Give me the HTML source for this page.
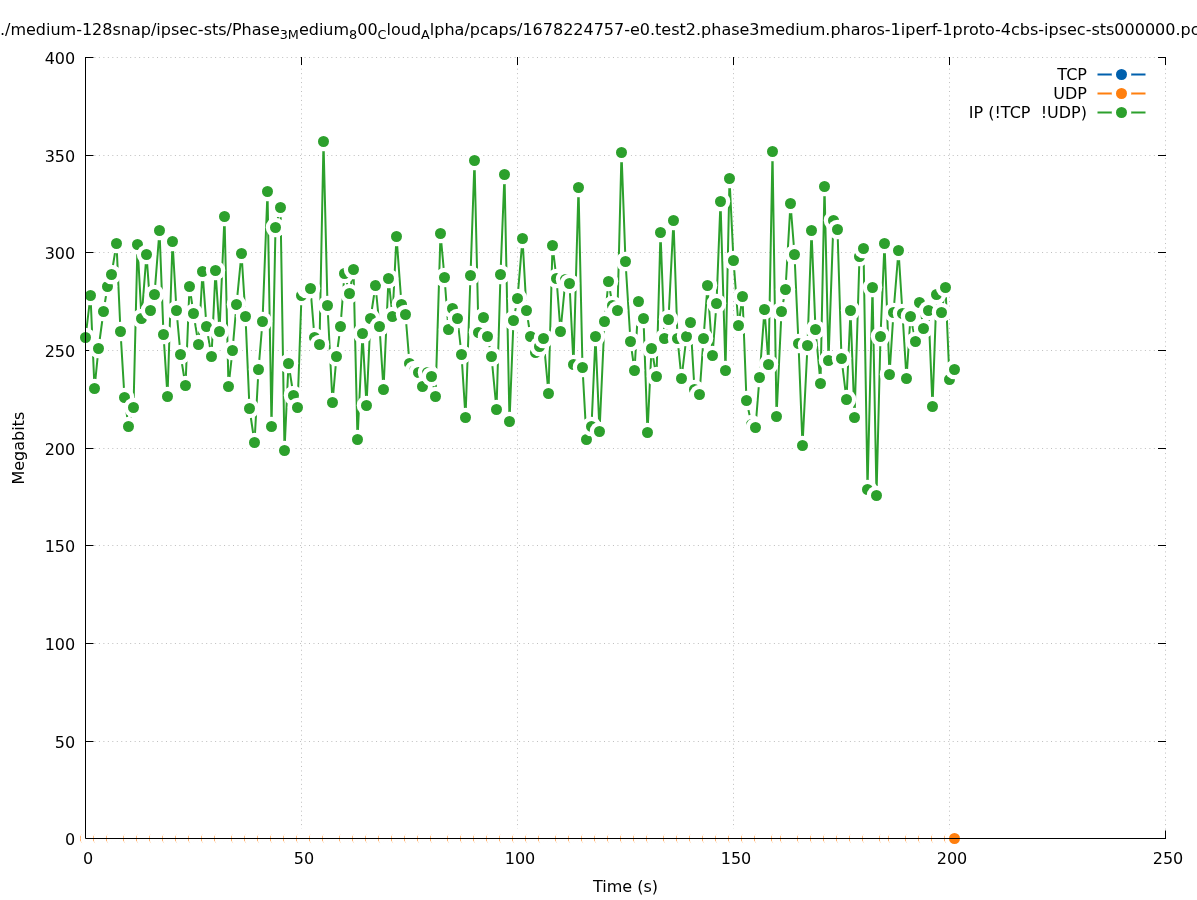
<!DOCTYPE html>
<html><head><meta charset="utf-8"><title>Throughput</title>
<style>html,body{margin:0;padding:0;background:#fff}body{width:1197px;height:900px;overflow:hidden}</style></head>
<body>
<svg width="1197" height="900" viewBox="0 0 1197 900" style="display:block;font-family:'DejaVu Sans','Liberation Sans',sans-serif;font-size:16px">
<rect width="1197" height="900" fill="#fff"/>
<g stroke="#bebebe" stroke-width="1" stroke-dasharray="1 3.47" fill="none"><line x1="301.5" y1="838.5" x2="301.5" y2="57.5"/><line x1="517.5" y1="838.5" x2="517.5" y2="57.5"/><line x1="733.5" y1="838.5" x2="733.5" y2="57.5"/><line x1="949.5" y1="838.5" x2="949.5" y2="57.5"/><line x1="1165.5" y1="838.5" x2="1165.5" y2="57.5"/><line x1="85.5" y1="741.5" x2="1165.5" y2="741.5"/><line x1="85.5" y1="643.5" x2="1165.5" y2="643.5"/><line x1="85.5" y1="545.5" x2="1165.5" y2="545.5"/><line x1="85.5" y1="448.5" x2="1165.5" y2="448.5"/><line x1="85.5" y1="350.5" x2="1165.5" y2="350.5"/><line x1="85.5" y1="252.5" x2="1165.5" y2="252.5"/><line x1="85.5" y1="155.5" x2="1165.5" y2="155.5"/><line x1="85.5" y1="57.5" x2="1165.5" y2="57.5"/></g>
<g stroke="#000" stroke-width="1" fill="none"><line x1="85.5" y1="838.5" x2="85.5" y2="830.5"/><line x1="85.5" y1="57.0" x2="85.5" y2="65.0"/><line x1="301.5" y1="838.5" x2="301.5" y2="830.5"/><line x1="301.5" y1="57.0" x2="301.5" y2="65.0"/><line x1="517.5" y1="838.5" x2="517.5" y2="830.5"/><line x1="517.5" y1="57.0" x2="517.5" y2="65.0"/><line x1="733.5" y1="838.5" x2="733.5" y2="830.5"/><line x1="733.5" y1="57.0" x2="733.5" y2="65.0"/><line x1="949.5" y1="838.5" x2="949.5" y2="830.5"/><line x1="949.5" y1="57.0" x2="949.5" y2="65.0"/><line x1="1165.5" y1="838.5" x2="1165.5" y2="830.5"/><line x1="1165.5" y1="57.0" x2="1165.5" y2="65.0"/><line x1="85.5" y1="838.5" x2="93.5" y2="838.5"/><line x1="1166.0" y1="838.5" x2="1158.0" y2="838.5"/><line x1="85.5" y1="741.5" x2="93.5" y2="741.5"/><line x1="1166.0" y1="741.5" x2="1158.0" y2="741.5"/><line x1="85.5" y1="643.5" x2="93.5" y2="643.5"/><line x1="1166.0" y1="643.5" x2="1158.0" y2="643.5"/><line x1="85.5" y1="545.5" x2="93.5" y2="545.5"/><line x1="1166.0" y1="545.5" x2="1158.0" y2="545.5"/><line x1="85.5" y1="448.5" x2="93.5" y2="448.5"/><line x1="1166.0" y1="448.5" x2="1158.0" y2="448.5"/><line x1="85.5" y1="350.5" x2="93.5" y2="350.5"/><line x1="1166.0" y1="350.5" x2="1158.0" y2="350.5"/><line x1="85.5" y1="252.5" x2="93.5" y2="252.5"/><line x1="1166.0" y1="252.5" x2="1158.0" y2="252.5"/><line x1="85.5" y1="155.5" x2="93.5" y2="155.5"/><line x1="1166.0" y1="155.5" x2="1158.0" y2="155.5"/><line x1="85.5" y1="57.5" x2="93.5" y2="57.5"/><line x1="1166.0" y1="57.5" x2="1158.0" y2="57.5"/></g>
<g><circle cx="85.5" cy="838.5" r="10" fill="#fff"/><circle cx="85.5" cy="838.5" r="5.5" fill="#ff7f0e"/><circle cx="90.5" cy="838.5" r="10" fill="#fff"/><circle cx="90.5" cy="838.5" r="5.5" fill="#ff7f0e"/><circle cx="94.5" cy="838.5" r="10" fill="#fff"/><circle cx="94.5" cy="838.5" r="5.5" fill="#ff7f0e"/><circle cx="98.5" cy="838.5" r="10" fill="#fff"/><circle cx="98.5" cy="838.5" r="5.5" fill="#ff7f0e"/><circle cx="103.5" cy="838.5" r="10" fill="#fff"/><circle cx="103.5" cy="838.5" r="5.5" fill="#ff7f0e"/><circle cx="107.5" cy="838.5" r="10" fill="#fff"/><circle cx="107.5" cy="838.5" r="5.5" fill="#ff7f0e"/><circle cx="111.5" cy="838.5" r="10" fill="#fff"/><circle cx="111.5" cy="838.5" r="5.5" fill="#ff7f0e"/><circle cx="116.5" cy="838.5" r="10" fill="#fff"/><circle cx="116.5" cy="838.5" r="5.5" fill="#ff7f0e"/><circle cx="120.5" cy="838.5" r="10" fill="#fff"/><circle cx="120.5" cy="838.5" r="5.5" fill="#ff7f0e"/><circle cx="124.5" cy="838.5" r="10" fill="#fff"/><circle cx="124.5" cy="838.5" r="5.5" fill="#ff7f0e"/><circle cx="128.5" cy="838.5" r="10" fill="#fff"/><circle cx="128.5" cy="838.5" r="5.5" fill="#ff7f0e"/><circle cx="133.5" cy="838.5" r="10" fill="#fff"/><circle cx="133.5" cy="838.5" r="5.5" fill="#ff7f0e"/><circle cx="137.5" cy="838.5" r="10" fill="#fff"/><circle cx="137.5" cy="838.5" r="5.5" fill="#ff7f0e"/><circle cx="141.5" cy="838.5" r="10" fill="#fff"/><circle cx="141.5" cy="838.5" r="5.5" fill="#ff7f0e"/><circle cx="146.5" cy="838.5" r="10" fill="#fff"/><circle cx="146.5" cy="838.5" r="5.5" fill="#ff7f0e"/><circle cx="150.5" cy="838.5" r="10" fill="#fff"/><circle cx="150.5" cy="838.5" r="5.5" fill="#ff7f0e"/><circle cx="154.5" cy="838.5" r="10" fill="#fff"/><circle cx="154.5" cy="838.5" r="5.5" fill="#ff7f0e"/><circle cx="159.5" cy="838.5" r="10" fill="#fff"/><circle cx="159.5" cy="838.5" r="5.5" fill="#ff7f0e"/><circle cx="163.5" cy="838.5" r="10" fill="#fff"/><circle cx="163.5" cy="838.5" r="5.5" fill="#ff7f0e"/><circle cx="167.5" cy="838.5" r="10" fill="#fff"/><circle cx="167.5" cy="838.5" r="5.5" fill="#ff7f0e"/><circle cx="172.5" cy="838.5" r="10" fill="#fff"/><circle cx="172.5" cy="838.5" r="5.5" fill="#ff7f0e"/><circle cx="176.5" cy="838.5" r="10" fill="#fff"/><circle cx="176.5" cy="838.5" r="5.5" fill="#ff7f0e"/><circle cx="180.5" cy="838.5" r="10" fill="#fff"/><circle cx="180.5" cy="838.5" r="5.5" fill="#ff7f0e"/><circle cx="185.5" cy="838.5" r="10" fill="#fff"/><circle cx="185.5" cy="838.5" r="5.5" fill="#ff7f0e"/><circle cx="189.5" cy="838.5" r="10" fill="#fff"/><circle cx="189.5" cy="838.5" r="5.5" fill="#ff7f0e"/><circle cx="193.5" cy="838.5" r="10" fill="#fff"/><circle cx="193.5" cy="838.5" r="5.5" fill="#ff7f0e"/><circle cx="198.5" cy="838.5" r="10" fill="#fff"/><circle cx="198.5" cy="838.5" r="5.5" fill="#ff7f0e"/><circle cx="202.5" cy="838.5" r="10" fill="#fff"/><circle cx="202.5" cy="838.5" r="5.5" fill="#ff7f0e"/><circle cx="206.5" cy="838.5" r="10" fill="#fff"/><circle cx="206.5" cy="838.5" r="5.5" fill="#ff7f0e"/><circle cx="211.5" cy="838.5" r="10" fill="#fff"/><circle cx="211.5" cy="838.5" r="5.5" fill="#ff7f0e"/><circle cx="215.5" cy="838.5" r="10" fill="#fff"/><circle cx="215.5" cy="838.5" r="5.5" fill="#ff7f0e"/><circle cx="219.5" cy="838.5" r="10" fill="#fff"/><circle cx="219.5" cy="838.5" r="5.5" fill="#ff7f0e"/><circle cx="224.5" cy="838.5" r="10" fill="#fff"/><circle cx="224.5" cy="838.5" r="5.5" fill="#ff7f0e"/><circle cx="228.5" cy="838.5" r="10" fill="#fff"/><circle cx="228.5" cy="838.5" r="5.5" fill="#ff7f0e"/><circle cx="232.5" cy="838.5" r="10" fill="#fff"/><circle cx="232.5" cy="838.5" r="5.5" fill="#ff7f0e"/><circle cx="236.5" cy="838.5" r="10" fill="#fff"/><circle cx="236.5" cy="838.5" r="5.5" fill="#ff7f0e"/><circle cx="241.5" cy="838.5" r="10" fill="#fff"/><circle cx="241.5" cy="838.5" r="5.5" fill="#ff7f0e"/><circle cx="245.5" cy="838.5" r="10" fill="#fff"/><circle cx="245.5" cy="838.5" r="5.5" fill="#ff7f0e"/><circle cx="249.5" cy="838.5" r="10" fill="#fff"/><circle cx="249.5" cy="838.5" r="5.5" fill="#ff7f0e"/><circle cx="254.5" cy="838.5" r="10" fill="#fff"/><circle cx="254.5" cy="838.5" r="5.5" fill="#ff7f0e"/><circle cx="258.5" cy="838.5" r="10" fill="#fff"/><circle cx="258.5" cy="838.5" r="5.5" fill="#ff7f0e"/><circle cx="262.5" cy="838.5" r="10" fill="#fff"/><circle cx="262.5" cy="838.5" r="5.5" fill="#ff7f0e"/><circle cx="267.5" cy="838.5" r="10" fill="#fff"/><circle cx="267.5" cy="838.5" r="5.5" fill="#ff7f0e"/><circle cx="271.5" cy="838.5" r="10" fill="#fff"/><circle cx="271.5" cy="838.5" r="5.5" fill="#ff7f0e"/><circle cx="275.5" cy="838.5" r="10" fill="#fff"/><circle cx="275.5" cy="838.5" r="5.5" fill="#ff7f0e"/><circle cx="280.5" cy="838.5" r="10" fill="#fff"/><circle cx="280.5" cy="838.5" r="5.5" fill="#ff7f0e"/><circle cx="284.5" cy="838.5" r="10" fill="#fff"/><circle cx="284.5" cy="838.5" r="5.5" fill="#ff7f0e"/><circle cx="288.5" cy="838.5" r="10" fill="#fff"/><circle cx="288.5" cy="838.5" r="5.5" fill="#ff7f0e"/><circle cx="293.5" cy="838.5" r="10" fill="#fff"/><circle cx="293.5" cy="838.5" r="5.5" fill="#ff7f0e"/><circle cx="297.5" cy="838.5" r="10" fill="#fff"/><circle cx="297.5" cy="838.5" r="5.5" fill="#ff7f0e"/><circle cx="301.5" cy="838.5" r="10" fill="#fff"/><circle cx="301.5" cy="838.5" r="5.5" fill="#ff7f0e"/><circle cx="306.5" cy="838.5" r="10" fill="#fff"/><circle cx="306.5" cy="838.5" r="5.5" fill="#ff7f0e"/><circle cx="310.5" cy="838.5" r="10" fill="#fff"/><circle cx="310.5" cy="838.5" r="5.5" fill="#ff7f0e"/><circle cx="314.5" cy="838.5" r="10" fill="#fff"/><circle cx="314.5" cy="838.5" r="5.5" fill="#ff7f0e"/><circle cx="319.5" cy="838.5" r="10" fill="#fff"/><circle cx="319.5" cy="838.5" r="5.5" fill="#ff7f0e"/><circle cx="323.5" cy="838.5" r="10" fill="#fff"/><circle cx="323.5" cy="838.5" r="5.5" fill="#ff7f0e"/><circle cx="327.5" cy="838.5" r="10" fill="#fff"/><circle cx="327.5" cy="838.5" r="5.5" fill="#ff7f0e"/><circle cx="332.5" cy="838.5" r="10" fill="#fff"/><circle cx="332.5" cy="838.5" r="5.5" fill="#ff7f0e"/><circle cx="336.5" cy="838.5" r="10" fill="#fff"/><circle cx="336.5" cy="838.5" r="5.5" fill="#ff7f0e"/><circle cx="340.5" cy="838.5" r="10" fill="#fff"/><circle cx="340.5" cy="838.5" r="5.5" fill="#ff7f0e"/><circle cx="344.5" cy="838.5" r="10" fill="#fff"/><circle cx="344.5" cy="838.5" r="5.5" fill="#ff7f0e"/><circle cx="349.5" cy="838.5" r="10" fill="#fff"/><circle cx="349.5" cy="838.5" r="5.5" fill="#ff7f0e"/><circle cx="353.5" cy="838.5" r="10" fill="#fff"/><circle cx="353.5" cy="838.5" r="5.5" fill="#ff7f0e"/><circle cx="357.5" cy="838.5" r="10" fill="#fff"/><circle cx="357.5" cy="838.5" r="5.5" fill="#ff7f0e"/><circle cx="362.5" cy="838.5" r="10" fill="#fff"/><circle cx="362.5" cy="838.5" r="5.5" fill="#ff7f0e"/><circle cx="366.5" cy="838.5" r="10" fill="#fff"/><circle cx="366.5" cy="838.5" r="5.5" fill="#ff7f0e"/><circle cx="370.5" cy="838.5" r="10" fill="#fff"/><circle cx="370.5" cy="838.5" r="5.5" fill="#ff7f0e"/><circle cx="375.5" cy="838.5" r="10" fill="#fff"/><circle cx="375.5" cy="838.5" r="5.5" fill="#ff7f0e"/><circle cx="379.5" cy="838.5" r="10" fill="#fff"/><circle cx="379.5" cy="838.5" r="5.5" fill="#ff7f0e"/><circle cx="383.5" cy="838.5" r="10" fill="#fff"/><circle cx="383.5" cy="838.5" r="5.5" fill="#ff7f0e"/><circle cx="388.5" cy="838.5" r="10" fill="#fff"/><circle cx="388.5" cy="838.5" r="5.5" fill="#ff7f0e"/><circle cx="392.5" cy="838.5" r="10" fill="#fff"/><circle cx="392.5" cy="838.5" r="5.5" fill="#ff7f0e"/><circle cx="396.5" cy="838.5" r="10" fill="#fff"/><circle cx="396.5" cy="838.5" r="5.5" fill="#ff7f0e"/><circle cx="401.5" cy="838.5" r="10" fill="#fff"/><circle cx="401.5" cy="838.5" r="5.5" fill="#ff7f0e"/><circle cx="405.5" cy="838.5" r="10" fill="#fff"/><circle cx="405.5" cy="838.5" r="5.5" fill="#ff7f0e"/><circle cx="409.5" cy="838.5" r="10" fill="#fff"/><circle cx="409.5" cy="838.5" r="5.5" fill="#ff7f0e"/><circle cx="414.5" cy="838.5" r="10" fill="#fff"/><circle cx="414.5" cy="838.5" r="5.5" fill="#ff7f0e"/><circle cx="418.5" cy="838.5" r="10" fill="#fff"/><circle cx="418.5" cy="838.5" r="5.5" fill="#ff7f0e"/><circle cx="422.5" cy="838.5" r="10" fill="#fff"/><circle cx="422.5" cy="838.5" r="5.5" fill="#ff7f0e"/><circle cx="427.5" cy="838.5" r="10" fill="#fff"/><circle cx="427.5" cy="838.5" r="5.5" fill="#ff7f0e"/><circle cx="431.5" cy="838.5" r="10" fill="#fff"/><circle cx="431.5" cy="838.5" r="5.5" fill="#ff7f0e"/><circle cx="435.5" cy="838.5" r="10" fill="#fff"/><circle cx="435.5" cy="838.5" r="5.5" fill="#ff7f0e"/><circle cx="440.5" cy="838.5" r="10" fill="#fff"/><circle cx="440.5" cy="838.5" r="5.5" fill="#ff7f0e"/><circle cx="444.5" cy="838.5" r="10" fill="#fff"/><circle cx="444.5" cy="838.5" r="5.5" fill="#ff7f0e"/><circle cx="448.5" cy="838.5" r="10" fill="#fff"/><circle cx="448.5" cy="838.5" r="5.5" fill="#ff7f0e"/><circle cx="452.5" cy="838.5" r="10" fill="#fff"/><circle cx="452.5" cy="838.5" r="5.5" fill="#ff7f0e"/><circle cx="457.5" cy="838.5" r="10" fill="#fff"/><circle cx="457.5" cy="838.5" r="5.5" fill="#ff7f0e"/><circle cx="461.5" cy="838.5" r="10" fill="#fff"/><circle cx="461.5" cy="838.5" r="5.5" fill="#ff7f0e"/><circle cx="465.5" cy="838.5" r="10" fill="#fff"/><circle cx="465.5" cy="838.5" r="5.5" fill="#ff7f0e"/><circle cx="470.5" cy="838.5" r="10" fill="#fff"/><circle cx="470.5" cy="838.5" r="5.5" fill="#ff7f0e"/><circle cx="474.5" cy="838.5" r="10" fill="#fff"/><circle cx="474.5" cy="838.5" r="5.5" fill="#ff7f0e"/><circle cx="478.5" cy="838.5" r="10" fill="#fff"/><circle cx="478.5" cy="838.5" r="5.5" fill="#ff7f0e"/><circle cx="483.5" cy="838.5" r="10" fill="#fff"/><circle cx="483.5" cy="838.5" r="5.5" fill="#ff7f0e"/><circle cx="487.5" cy="838.5" r="10" fill="#fff"/><circle cx="487.5" cy="838.5" r="5.5" fill="#ff7f0e"/><circle cx="491.5" cy="838.5" r="10" fill="#fff"/><circle cx="491.5" cy="838.5" r="5.5" fill="#ff7f0e"/><circle cx="496.5" cy="838.5" r="10" fill="#fff"/><circle cx="496.5" cy="838.5" r="5.5" fill="#ff7f0e"/><circle cx="500.5" cy="838.5" r="10" fill="#fff"/><circle cx="500.5" cy="838.5" r="5.5" fill="#ff7f0e"/><circle cx="504.5" cy="838.5" r="10" fill="#fff"/><circle cx="504.5" cy="838.5" r="5.5" fill="#ff7f0e"/><circle cx="509.5" cy="838.5" r="10" fill="#fff"/><circle cx="509.5" cy="838.5" r="5.5" fill="#ff7f0e"/><circle cx="513.5" cy="838.5" r="10" fill="#fff"/><circle cx="513.5" cy="838.5" r="5.5" fill="#ff7f0e"/><circle cx="517.5" cy="838.5" r="10" fill="#fff"/><circle cx="517.5" cy="838.5" r="5.5" fill="#ff7f0e"/><circle cx="522.5" cy="838.5" r="10" fill="#fff"/><circle cx="522.5" cy="838.5" r="5.5" fill="#ff7f0e"/><circle cx="526.5" cy="838.5" r="10" fill="#fff"/><circle cx="526.5" cy="838.5" r="5.5" fill="#ff7f0e"/><circle cx="530.5" cy="838.5" r="10" fill="#fff"/><circle cx="530.5" cy="838.5" r="5.5" fill="#ff7f0e"/><circle cx="535.5" cy="838.5" r="10" fill="#fff"/><circle cx="535.5" cy="838.5" r="5.5" fill="#ff7f0e"/><circle cx="539.5" cy="838.5" r="10" fill="#fff"/><circle cx="539.5" cy="838.5" r="5.5" fill="#ff7f0e"/><circle cx="543.5" cy="838.5" r="10" fill="#fff"/><circle cx="543.5" cy="838.5" r="5.5" fill="#ff7f0e"/><circle cx="548.5" cy="838.5" r="10" fill="#fff"/><circle cx="548.5" cy="838.5" r="5.5" fill="#ff7f0e"/><circle cx="552.5" cy="838.5" r="10" fill="#fff"/><circle cx="552.5" cy="838.5" r="5.5" fill="#ff7f0e"/><circle cx="556.5" cy="838.5" r="10" fill="#fff"/><circle cx="556.5" cy="838.5" r="5.5" fill="#ff7f0e"/><circle cx="560.5" cy="838.5" r="10" fill="#fff"/><circle cx="560.5" cy="838.5" r="5.5" fill="#ff7f0e"/><circle cx="565.5" cy="838.5" r="10" fill="#fff"/><circle cx="565.5" cy="838.5" r="5.5" fill="#ff7f0e"/><circle cx="569.5" cy="838.5" r="10" fill="#fff"/><circle cx="569.5" cy="838.5" r="5.5" fill="#ff7f0e"/><circle cx="573.5" cy="838.5" r="10" fill="#fff"/><circle cx="573.5" cy="838.5" r="5.5" fill="#ff7f0e"/><circle cx="578.5" cy="838.5" r="10" fill="#fff"/><circle cx="578.5" cy="838.5" r="5.5" fill="#ff7f0e"/><circle cx="582.5" cy="838.5" r="10" fill="#fff"/><circle cx="582.5" cy="838.5" r="5.5" fill="#ff7f0e"/><circle cx="586.5" cy="838.5" r="10" fill="#fff"/><circle cx="586.5" cy="838.5" r="5.5" fill="#ff7f0e"/><circle cx="591.5" cy="838.5" r="10" fill="#fff"/><circle cx="591.5" cy="838.5" r="5.5" fill="#ff7f0e"/><circle cx="595.5" cy="838.5" r="10" fill="#fff"/><circle cx="595.5" cy="838.5" r="5.5" fill="#ff7f0e"/><circle cx="599.5" cy="838.5" r="10" fill="#fff"/><circle cx="599.5" cy="838.5" r="5.5" fill="#ff7f0e"/><circle cx="604.5" cy="838.5" r="10" fill="#fff"/><circle cx="604.5" cy="838.5" r="5.5" fill="#ff7f0e"/><circle cx="608.5" cy="838.5" r="10" fill="#fff"/><circle cx="608.5" cy="838.5" r="5.5" fill="#ff7f0e"/><circle cx="612.5" cy="838.5" r="10" fill="#fff"/><circle cx="612.5" cy="838.5" r="5.5" fill="#ff7f0e"/><circle cx="617.5" cy="838.5" r="10" fill="#fff"/><circle cx="617.5" cy="838.5" r="5.5" fill="#ff7f0e"/><circle cx="621.5" cy="838.5" r="10" fill="#fff"/><circle cx="621.5" cy="838.5" r="5.5" fill="#ff7f0e"/><circle cx="625.5" cy="838.5" r="10" fill="#fff"/><circle cx="625.5" cy="838.5" r="5.5" fill="#ff7f0e"/><circle cx="630.5" cy="838.5" r="10" fill="#fff"/><circle cx="630.5" cy="838.5" r="5.5" fill="#ff7f0e"/><circle cx="634.5" cy="838.5" r="10" fill="#fff"/><circle cx="634.5" cy="838.5" r="5.5" fill="#ff7f0e"/><circle cx="638.5" cy="838.5" r="10" fill="#fff"/><circle cx="638.5" cy="838.5" r="5.5" fill="#ff7f0e"/><circle cx="643.5" cy="838.5" r="10" fill="#fff"/><circle cx="643.5" cy="838.5" r="5.5" fill="#ff7f0e"/><circle cx="647.5" cy="838.5" r="10" fill="#fff"/><circle cx="647.5" cy="838.5" r="5.5" fill="#ff7f0e"/><circle cx="651.5" cy="838.5" r="10" fill="#fff"/><circle cx="651.5" cy="838.5" r="5.5" fill="#ff7f0e"/><circle cx="656.5" cy="838.5" r="10" fill="#fff"/><circle cx="656.5" cy="838.5" r="5.5" fill="#ff7f0e"/><circle cx="660.5" cy="838.5" r="10" fill="#fff"/><circle cx="660.5" cy="838.5" r="5.5" fill="#ff7f0e"/><circle cx="664.5" cy="838.5" r="10" fill="#fff"/><circle cx="664.5" cy="838.5" r="5.5" fill="#ff7f0e"/><circle cx="668.5" cy="838.5" r="10" fill="#fff"/><circle cx="668.5" cy="838.5" r="5.5" fill="#ff7f0e"/><circle cx="673.5" cy="838.5" r="10" fill="#fff"/><circle cx="673.5" cy="838.5" r="5.5" fill="#ff7f0e"/><circle cx="677.5" cy="838.5" r="10" fill="#fff"/><circle cx="677.5" cy="838.5" r="5.5" fill="#ff7f0e"/><circle cx="681.5" cy="838.5" r="10" fill="#fff"/><circle cx="681.5" cy="838.5" r="5.5" fill="#ff7f0e"/><circle cx="686.5" cy="838.5" r="10" fill="#fff"/><circle cx="686.5" cy="838.5" r="5.5" fill="#ff7f0e"/><circle cx="690.5" cy="838.5" r="10" fill="#fff"/><circle cx="690.5" cy="838.5" r="5.5" fill="#ff7f0e"/><circle cx="694.5" cy="838.5" r="10" fill="#fff"/><circle cx="694.5" cy="838.5" r="5.5" fill="#ff7f0e"/><circle cx="699.5" cy="838.5" r="10" fill="#fff"/><circle cx="699.5" cy="838.5" r="5.5" fill="#ff7f0e"/><circle cx="703.5" cy="838.5" r="10" fill="#fff"/><circle cx="703.5" cy="838.5" r="5.5" fill="#ff7f0e"/><circle cx="707.5" cy="838.5" r="10" fill="#fff"/><circle cx="707.5" cy="838.5" r="5.5" fill="#ff7f0e"/><circle cx="712.5" cy="838.5" r="10" fill="#fff"/><circle cx="712.5" cy="838.5" r="5.5" fill="#ff7f0e"/><circle cx="716.5" cy="838.5" r="10" fill="#fff"/><circle cx="716.5" cy="838.5" r="5.5" fill="#ff7f0e"/><circle cx="720.5" cy="838.5" r="10" fill="#fff"/><circle cx="720.5" cy="838.5" r="5.5" fill="#ff7f0e"/><circle cx="725.5" cy="838.5" r="10" fill="#fff"/><circle cx="725.5" cy="838.5" r="5.5" fill="#ff7f0e"/><circle cx="729.5" cy="838.5" r="10" fill="#fff"/><circle cx="729.5" cy="838.5" r="5.5" fill="#ff7f0e"/><circle cx="733.5" cy="838.5" r="10" fill="#fff"/><circle cx="733.5" cy="838.5" r="5.5" fill="#ff7f0e"/><circle cx="738.5" cy="838.5" r="10" fill="#fff"/><circle cx="738.5" cy="838.5" r="5.5" fill="#ff7f0e"/><circle cx="742.5" cy="838.5" r="10" fill="#fff"/><circle cx="742.5" cy="838.5" r="5.5" fill="#ff7f0e"/><circle cx="746.5" cy="838.5" r="10" fill="#fff"/><circle cx="746.5" cy="838.5" r="5.5" fill="#ff7f0e"/><circle cx="751.5" cy="838.5" r="10" fill="#fff"/><circle cx="751.5" cy="838.5" r="5.5" fill="#ff7f0e"/><circle cx="755.5" cy="838.5" r="10" fill="#fff"/><circle cx="755.5" cy="838.5" r="5.5" fill="#ff7f0e"/><circle cx="759.5" cy="838.5" r="10" fill="#fff"/><circle cx="759.5" cy="838.5" r="5.5" fill="#ff7f0e"/><circle cx="764.5" cy="838.5" r="10" fill="#fff"/><circle cx="764.5" cy="838.5" r="5.5" fill="#ff7f0e"/><circle cx="768.5" cy="838.5" r="10" fill="#fff"/><circle cx="768.5" cy="838.5" r="5.5" fill="#ff7f0e"/><circle cx="772.5" cy="838.5" r="10" fill="#fff"/><circle cx="772.5" cy="838.5" r="5.5" fill="#ff7f0e"/><circle cx="776.5" cy="838.5" r="10" fill="#fff"/><circle cx="776.5" cy="838.5" r="5.5" fill="#ff7f0e"/><circle cx="781.5" cy="838.5" r="10" fill="#fff"/><circle cx="781.5" cy="838.5" r="5.5" fill="#ff7f0e"/><circle cx="785.5" cy="838.5" r="10" fill="#fff"/><circle cx="785.5" cy="838.5" r="5.5" fill="#ff7f0e"/><circle cx="790.5" cy="838.5" r="10" fill="#fff"/><circle cx="790.5" cy="838.5" r="5.5" fill="#ff7f0e"/><circle cx="794.5" cy="838.5" r="10" fill="#fff"/><circle cx="794.5" cy="838.5" r="5.5" fill="#ff7f0e"/><circle cx="798.5" cy="838.5" r="10" fill="#fff"/><circle cx="798.5" cy="838.5" r="5.5" fill="#ff7f0e"/><circle cx="802.5" cy="838.5" r="10" fill="#fff"/><circle cx="802.5" cy="838.5" r="5.5" fill="#ff7f0e"/><circle cx="807.5" cy="838.5" r="10" fill="#fff"/><circle cx="807.5" cy="838.5" r="5.5" fill="#ff7f0e"/><circle cx="811.5" cy="838.5" r="10" fill="#fff"/><circle cx="811.5" cy="838.5" r="5.5" fill="#ff7f0e"/><circle cx="815.5" cy="838.5" r="10" fill="#fff"/><circle cx="815.5" cy="838.5" r="5.5" fill="#ff7f0e"/><circle cx="820.5" cy="838.5" r="10" fill="#fff"/><circle cx="820.5" cy="838.5" r="5.5" fill="#ff7f0e"/><circle cx="824.5" cy="838.5" r="10" fill="#fff"/><circle cx="824.5" cy="838.5" r="5.5" fill="#ff7f0e"/><circle cx="828.5" cy="838.5" r="10" fill="#fff"/><circle cx="828.5" cy="838.5" r="5.5" fill="#ff7f0e"/><circle cx="833.5" cy="838.5" r="10" fill="#fff"/><circle cx="833.5" cy="838.5" r="5.5" fill="#ff7f0e"/><circle cx="837.5" cy="838.5" r="10" fill="#fff"/><circle cx="837.5" cy="838.5" r="5.5" fill="#ff7f0e"/><circle cx="841.5" cy="838.5" r="10" fill="#fff"/><circle cx="841.5" cy="838.5" r="5.5" fill="#ff7f0e"/><circle cx="846.5" cy="838.5" r="10" fill="#fff"/><circle cx="846.5" cy="838.5" r="5.5" fill="#ff7f0e"/><circle cx="850.5" cy="838.5" r="10" fill="#fff"/><circle cx="850.5" cy="838.5" r="5.5" fill="#ff7f0e"/><circle cx="854.5" cy="838.5" r="10" fill="#fff"/><circle cx="854.5" cy="838.5" r="5.5" fill="#ff7f0e"/><circle cx="859.5" cy="838.5" r="10" fill="#fff"/><circle cx="859.5" cy="838.5" r="5.5" fill="#ff7f0e"/><circle cx="863.5" cy="838.5" r="10" fill="#fff"/><circle cx="863.5" cy="838.5" r="5.5" fill="#ff7f0e"/><circle cx="867.5" cy="838.5" r="10" fill="#fff"/><circle cx="867.5" cy="838.5" r="5.5" fill="#ff7f0e"/><circle cx="872.5" cy="838.5" r="10" fill="#fff"/><circle cx="872.5" cy="838.5" r="5.5" fill="#ff7f0e"/><circle cx="876.5" cy="838.5" r="10" fill="#fff"/><circle cx="876.5" cy="838.5" r="5.5" fill="#ff7f0e"/><circle cx="880.5" cy="838.5" r="10" fill="#fff"/><circle cx="880.5" cy="838.5" r="5.5" fill="#ff7f0e"/><circle cx="884.5" cy="838.5" r="10" fill="#fff"/><circle cx="884.5" cy="838.5" r="5.5" fill="#ff7f0e"/><circle cx="889.5" cy="838.5" r="10" fill="#fff"/><circle cx="889.5" cy="838.5" r="5.5" fill="#ff7f0e"/><circle cx="893.5" cy="838.5" r="10" fill="#fff"/><circle cx="893.5" cy="838.5" r="5.5" fill="#ff7f0e"/><circle cx="898.5" cy="838.5" r="10" fill="#fff"/><circle cx="898.5" cy="838.5" r="5.5" fill="#ff7f0e"/><circle cx="902.5" cy="838.5" r="10" fill="#fff"/><circle cx="902.5" cy="838.5" r="5.5" fill="#ff7f0e"/><circle cx="906.5" cy="838.5" r="10" fill="#fff"/><circle cx="906.5" cy="838.5" r="5.5" fill="#ff7f0e"/><circle cx="910.5" cy="838.5" r="10" fill="#fff"/><circle cx="910.5" cy="838.5" r="5.5" fill="#ff7f0e"/><circle cx="915.5" cy="838.5" r="10" fill="#fff"/><circle cx="915.5" cy="838.5" r="5.5" fill="#ff7f0e"/><circle cx="919.5" cy="838.5" r="10" fill="#fff"/><circle cx="919.5" cy="838.5" r="5.5" fill="#ff7f0e"/><circle cx="923.5" cy="838.5" r="10" fill="#fff"/><circle cx="923.5" cy="838.5" r="5.5" fill="#ff7f0e"/><circle cx="928.5" cy="838.5" r="10" fill="#fff"/><circle cx="928.5" cy="838.5" r="5.5" fill="#ff7f0e"/><circle cx="932.5" cy="838.5" r="10" fill="#fff"/><circle cx="932.5" cy="838.5" r="5.5" fill="#ff7f0e"/><circle cx="936.5" cy="838.5" r="10" fill="#fff"/><circle cx="936.5" cy="838.5" r="5.5" fill="#ff7f0e"/><circle cx="941.5" cy="838.5" r="10" fill="#fff"/><circle cx="941.5" cy="838.5" r="5.5" fill="#ff7f0e"/><circle cx="945.5" cy="838.5" r="10" fill="#fff"/><circle cx="945.5" cy="838.5" r="5.5" fill="#ff7f0e"/><circle cx="949.5" cy="838.5" r="10" fill="#fff"/><circle cx="949.5" cy="838.5" r="5.5" fill="#ff7f0e"/><circle cx="954.5" cy="838.5" r="10" fill="#fff"/><circle cx="954.5" cy="838.5" r="5.5" fill="#ff7f0e"/></g>
<polyline points="85.5,337.5 90.5,295.5 94.5,388.5 98.5,348.5 103.5,311.5 107.5,286.5 111.5,274.5 116.5,243.5 120.5,331.5 124.5,397.5 128.5,426.5 133.5,407.5 137.5,244.5 141.5,318.5 146.5,254.5 150.5,310.5 154.5,294.5 159.5,230.5 163.5,334.5 167.5,396.5 172.5,241.5 176.5,310.5 180.5,354.5 185.5,385.5 189.5,286.5 193.5,313.5 198.5,344.5 202.5,271.5 206.5,326.5 211.5,356.5 215.5,270.5 219.5,331.5 224.5,216.5 228.5,386.5 232.5,350.5 236.5,304.5 241.5,253.5 245.5,316.5 249.5,408.5 254.5,442.5 258.5,369.5 262.5,321.5 267.5,191.5 271.5,426.5 275.5,227.5 280.5,207.5 284.5,450.5 288.5,363.5 293.5,395.5 297.5,407.5 301.5,295.5 306.5,288.5 310.5,288.5 314.5,337.5 319.5,344.5 323.5,141.5 327.5,305.5 332.5,402.5 336.5,356.5 340.5,326.5 344.5,273.5 349.5,293.5 353.5,269.5 357.5,439.5 362.5,333.5 366.5,405.5 370.5,318.5 375.5,285.5 379.5,326.5 383.5,389.5 388.5,278.5 392.5,316.5 396.5,236.5 401.5,304.5 405.5,314.5 409.5,363.5 414.5,370.5 418.5,372.5 422.5,386.5 427.5,372.5 431.5,376.5 435.5,396.5 440.5,233.5 444.5,277.5 448.5,329.5 452.5,308.5 457.5,318.5 461.5,354.5 465.5,417.5 470.5,275.5 474.5,160.5 478.5,332.5 483.5,317.5 487.5,336.5 491.5,356.5 496.5,409.5 500.5,274.5 504.5,174.5 509.5,421.5 513.5,320.5 517.5,298.5 522.5,238.5 526.5,310.5 530.5,336.5 535.5,352.5 539.5,346.5 543.5,338.5 548.5,393.5 552.5,245.5 556.5,278.5 560.5,331.5 565.5,279.5 569.5,283.5 573.5,364.5 578.5,187.5 582.5,367.5 586.5,439.5 591.5,426.5 595.5,336.5 599.5,431.5 604.5,321.5 608.5,281.5 612.5,305.5 617.5,310.5 621.5,152.5 625.5,261.5 630.5,341.5 634.5,370.5 638.5,301.5 643.5,318.5 647.5,432.5 651.5,348.5 656.5,376.5 660.5,232.5 664.5,338.5 668.5,319.5 673.5,220.5 677.5,338.5 681.5,378.5 686.5,336.5 690.5,322.5 694.5,389.5 699.5,394.5 703.5,338.5 707.5,285.5 712.5,355.5 716.5,303.5 720.5,201.5 725.5,370.5 729.5,178.5 733.5,260.5 738.5,325.5 742.5,296.5 746.5,400.5 751.5,424.5 755.5,427.5 759.5,377.5 764.5,309.5 768.5,364.5 772.5,151.5 776.5,416.5 781.5,311.5 785.5,289.5 790.5,203.5 794.5,254.5 798.5,343.5 802.5,445.5 807.5,345.5 811.5,230.5 815.5,329.5 820.5,383.5 824.5,186.5 828.5,360.5 833.5,220.5 837.5,229.5 841.5,358.5 846.5,399.5 850.5,310.5 854.5,417.5 859.5,256.5 863.5,248.5 867.5,489.5 872.5,287.5 876.5,495.5 880.5,336.5 884.5,243.5 889.5,374.5 893.5,312.5 898.5,250.5 902.5,313.5 906.5,378.5 910.5,316.5 915.5,341.5 919.5,302.5 923.5,328.5 928.5,310.5 932.5,406.5 936.5,294.5 941.5,312.5 945.5,287.5 949.5,379.5 954.5,369.5" fill="none" stroke="#2ca02c" stroke-width="2" stroke-linejoin="round"/>
<g><circle cx="85.5" cy="337.5" r="9.75" fill="#fff"/><circle cx="85.5" cy="337.5" r="5.5" fill="#2ca02c"/><circle cx="90.5" cy="295.5" r="9.75" fill="#fff"/><circle cx="90.5" cy="295.5" r="5.5" fill="#2ca02c"/><circle cx="94.5" cy="388.5" r="9.75" fill="#fff"/><circle cx="94.5" cy="388.5" r="5.5" fill="#2ca02c"/><circle cx="98.5" cy="348.5" r="9.75" fill="#fff"/><circle cx="98.5" cy="348.5" r="5.5" fill="#2ca02c"/><circle cx="103.5" cy="311.5" r="9.75" fill="#fff"/><circle cx="103.5" cy="311.5" r="5.5" fill="#2ca02c"/><circle cx="107.5" cy="286.5" r="9.75" fill="#fff"/><circle cx="107.5" cy="286.5" r="5.5" fill="#2ca02c"/><circle cx="111.5" cy="274.5" r="9.75" fill="#fff"/><circle cx="111.5" cy="274.5" r="5.5" fill="#2ca02c"/><circle cx="116.5" cy="243.5" r="9.75" fill="#fff"/><circle cx="116.5" cy="243.5" r="5.5" fill="#2ca02c"/><circle cx="120.5" cy="331.5" r="9.75" fill="#fff"/><circle cx="120.5" cy="331.5" r="5.5" fill="#2ca02c"/><circle cx="124.5" cy="397.5" r="9.75" fill="#fff"/><circle cx="124.5" cy="397.5" r="5.5" fill="#2ca02c"/><circle cx="128.5" cy="426.5" r="9.75" fill="#fff"/><circle cx="128.5" cy="426.5" r="5.5" fill="#2ca02c"/><circle cx="133.5" cy="407.5" r="9.75" fill="#fff"/><circle cx="133.5" cy="407.5" r="5.5" fill="#2ca02c"/><circle cx="137.5" cy="244.5" r="9.75" fill="#fff"/><circle cx="137.5" cy="244.5" r="5.5" fill="#2ca02c"/><circle cx="141.5" cy="318.5" r="9.75" fill="#fff"/><circle cx="141.5" cy="318.5" r="5.5" fill="#2ca02c"/><circle cx="146.5" cy="254.5" r="9.75" fill="#fff"/><circle cx="146.5" cy="254.5" r="5.5" fill="#2ca02c"/><circle cx="150.5" cy="310.5" r="9.75" fill="#fff"/><circle cx="150.5" cy="310.5" r="5.5" fill="#2ca02c"/><circle cx="154.5" cy="294.5" r="9.75" fill="#fff"/><circle cx="154.5" cy="294.5" r="5.5" fill="#2ca02c"/><circle cx="159.5" cy="230.5" r="9.75" fill="#fff"/><circle cx="159.5" cy="230.5" r="5.5" fill="#2ca02c"/><circle cx="163.5" cy="334.5" r="9.75" fill="#fff"/><circle cx="163.5" cy="334.5" r="5.5" fill="#2ca02c"/><circle cx="167.5" cy="396.5" r="9.75" fill="#fff"/><circle cx="167.5" cy="396.5" r="5.5" fill="#2ca02c"/><circle cx="172.5" cy="241.5" r="9.75" fill="#fff"/><circle cx="172.5" cy="241.5" r="5.5" fill="#2ca02c"/><circle cx="176.5" cy="310.5" r="9.75" fill="#fff"/><circle cx="176.5" cy="310.5" r="5.5" fill="#2ca02c"/><circle cx="180.5" cy="354.5" r="9.75" fill="#fff"/><circle cx="180.5" cy="354.5" r="5.5" fill="#2ca02c"/><circle cx="185.5" cy="385.5" r="9.75" fill="#fff"/><circle cx="185.5" cy="385.5" r="5.5" fill="#2ca02c"/><circle cx="189.5" cy="286.5" r="9.75" fill="#fff"/><circle cx="189.5" cy="286.5" r="5.5" fill="#2ca02c"/><circle cx="193.5" cy="313.5" r="9.75" fill="#fff"/><circle cx="193.5" cy="313.5" r="5.5" fill="#2ca02c"/><circle cx="198.5" cy="344.5" r="9.75" fill="#fff"/><circle cx="198.5" cy="344.5" r="5.5" fill="#2ca02c"/><circle cx="202.5" cy="271.5" r="9.75" fill="#fff"/><circle cx="202.5" cy="271.5" r="5.5" fill="#2ca02c"/><circle cx="206.5" cy="326.5" r="9.75" fill="#fff"/><circle cx="206.5" cy="326.5" r="5.5" fill="#2ca02c"/><circle cx="211.5" cy="356.5" r="9.75" fill="#fff"/><circle cx="211.5" cy="356.5" r="5.5" fill="#2ca02c"/><circle cx="215.5" cy="270.5" r="9.75" fill="#fff"/><circle cx="215.5" cy="270.5" r="5.5" fill="#2ca02c"/><circle cx="219.5" cy="331.5" r="9.75" fill="#fff"/><circle cx="219.5" cy="331.5" r="5.5" fill="#2ca02c"/><circle cx="224.5" cy="216.5" r="9.75" fill="#fff"/><circle cx="224.5" cy="216.5" r="5.5" fill="#2ca02c"/><circle cx="228.5" cy="386.5" r="9.75" fill="#fff"/><circle cx="228.5" cy="386.5" r="5.5" fill="#2ca02c"/><circle cx="232.5" cy="350.5" r="9.75" fill="#fff"/><circle cx="232.5" cy="350.5" r="5.5" fill="#2ca02c"/><circle cx="236.5" cy="304.5" r="9.75" fill="#fff"/><circle cx="236.5" cy="304.5" r="5.5" fill="#2ca02c"/><circle cx="241.5" cy="253.5" r="9.75" fill="#fff"/><circle cx="241.5" cy="253.5" r="5.5" fill="#2ca02c"/><circle cx="245.5" cy="316.5" r="9.75" fill="#fff"/><circle cx="245.5" cy="316.5" r="5.5" fill="#2ca02c"/><circle cx="249.5" cy="408.5" r="9.75" fill="#fff"/><circle cx="249.5" cy="408.5" r="5.5" fill="#2ca02c"/><circle cx="254.5" cy="442.5" r="9.75" fill="#fff"/><circle cx="254.5" cy="442.5" r="5.5" fill="#2ca02c"/><circle cx="258.5" cy="369.5" r="9.75" fill="#fff"/><circle cx="258.5" cy="369.5" r="5.5" fill="#2ca02c"/><circle cx="262.5" cy="321.5" r="9.75" fill="#fff"/><circle cx="262.5" cy="321.5" r="5.5" fill="#2ca02c"/><circle cx="267.5" cy="191.5" r="9.75" fill="#fff"/><circle cx="267.5" cy="191.5" r="5.5" fill="#2ca02c"/><circle cx="271.5" cy="426.5" r="9.75" fill="#fff"/><circle cx="271.5" cy="426.5" r="5.5" fill="#2ca02c"/><circle cx="275.5" cy="227.5" r="9.75" fill="#fff"/><circle cx="275.5" cy="227.5" r="5.5" fill="#2ca02c"/><circle cx="280.5" cy="207.5" r="9.75" fill="#fff"/><circle cx="280.5" cy="207.5" r="5.5" fill="#2ca02c"/><circle cx="284.5" cy="450.5" r="9.75" fill="#fff"/><circle cx="284.5" cy="450.5" r="5.5" fill="#2ca02c"/><circle cx="288.5" cy="363.5" r="9.75" fill="#fff"/><circle cx="288.5" cy="363.5" r="5.5" fill="#2ca02c"/><circle cx="293.5" cy="395.5" r="9.75" fill="#fff"/><circle cx="293.5" cy="395.5" r="5.5" fill="#2ca02c"/><circle cx="297.5" cy="407.5" r="9.75" fill="#fff"/><circle cx="297.5" cy="407.5" r="5.5" fill="#2ca02c"/><circle cx="301.5" cy="295.5" r="9.75" fill="#fff"/><circle cx="301.5" cy="295.5" r="5.5" fill="#2ca02c"/><circle cx="306.5" cy="288.5" r="9.75" fill="#fff"/><circle cx="306.5" cy="288.5" r="5.5" fill="#2ca02c"/><circle cx="310.5" cy="288.5" r="9.75" fill="#fff"/><circle cx="310.5" cy="288.5" r="5.5" fill="#2ca02c"/><circle cx="314.5" cy="337.5" r="9.75" fill="#fff"/><circle cx="314.5" cy="337.5" r="5.5" fill="#2ca02c"/><circle cx="319.5" cy="344.5" r="9.75" fill="#fff"/><circle cx="319.5" cy="344.5" r="5.5" fill="#2ca02c"/><circle cx="323.5" cy="141.5" r="9.75" fill="#fff"/><circle cx="323.5" cy="141.5" r="5.5" fill="#2ca02c"/><circle cx="327.5" cy="305.5" r="9.75" fill="#fff"/><circle cx="327.5" cy="305.5" r="5.5" fill="#2ca02c"/><circle cx="332.5" cy="402.5" r="9.75" fill="#fff"/><circle cx="332.5" cy="402.5" r="5.5" fill="#2ca02c"/><circle cx="336.5" cy="356.5" r="9.75" fill="#fff"/><circle cx="336.5" cy="356.5" r="5.5" fill="#2ca02c"/><circle cx="340.5" cy="326.5" r="9.75" fill="#fff"/><circle cx="340.5" cy="326.5" r="5.5" fill="#2ca02c"/><circle cx="344.5" cy="273.5" r="9.75" fill="#fff"/><circle cx="344.5" cy="273.5" r="5.5" fill="#2ca02c"/><circle cx="349.5" cy="293.5" r="9.75" fill="#fff"/><circle cx="349.5" cy="293.5" r="5.5" fill="#2ca02c"/><circle cx="353.5" cy="269.5" r="9.75" fill="#fff"/><circle cx="353.5" cy="269.5" r="5.5" fill="#2ca02c"/><circle cx="357.5" cy="439.5" r="9.75" fill="#fff"/><circle cx="357.5" cy="439.5" r="5.5" fill="#2ca02c"/><circle cx="362.5" cy="333.5" r="9.75" fill="#fff"/><circle cx="362.5" cy="333.5" r="5.5" fill="#2ca02c"/><circle cx="366.5" cy="405.5" r="9.75" fill="#fff"/><circle cx="366.5" cy="405.5" r="5.5" fill="#2ca02c"/><circle cx="370.5" cy="318.5" r="9.75" fill="#fff"/><circle cx="370.5" cy="318.5" r="5.5" fill="#2ca02c"/><circle cx="375.5" cy="285.5" r="9.75" fill="#fff"/><circle cx="375.5" cy="285.5" r="5.5" fill="#2ca02c"/><circle cx="379.5" cy="326.5" r="9.75" fill="#fff"/><circle cx="379.5" cy="326.5" r="5.5" fill="#2ca02c"/><circle cx="383.5" cy="389.5" r="9.75" fill="#fff"/><circle cx="383.5" cy="389.5" r="5.5" fill="#2ca02c"/><circle cx="388.5" cy="278.5" r="9.75" fill="#fff"/><circle cx="388.5" cy="278.5" r="5.5" fill="#2ca02c"/><circle cx="392.5" cy="316.5" r="9.75" fill="#fff"/><circle cx="392.5" cy="316.5" r="5.5" fill="#2ca02c"/><circle cx="396.5" cy="236.5" r="9.75" fill="#fff"/><circle cx="396.5" cy="236.5" r="5.5" fill="#2ca02c"/><circle cx="401.5" cy="304.5" r="9.75" fill="#fff"/><circle cx="401.5" cy="304.5" r="5.5" fill="#2ca02c"/><circle cx="405.5" cy="314.5" r="9.75" fill="#fff"/><circle cx="405.5" cy="314.5" r="5.5" fill="#2ca02c"/><circle cx="409.5" cy="363.5" r="9.75" fill="#fff"/><circle cx="409.5" cy="363.5" r="5.5" fill="#2ca02c"/><circle cx="414.5" cy="370.5" r="9.75" fill="#fff"/><circle cx="414.5" cy="370.5" r="5.5" fill="#2ca02c"/><circle cx="418.5" cy="372.5" r="9.75" fill="#fff"/><circle cx="418.5" cy="372.5" r="5.5" fill="#2ca02c"/><circle cx="422.5" cy="386.5" r="9.75" fill="#fff"/><circle cx="422.5" cy="386.5" r="5.5" fill="#2ca02c"/><circle cx="427.5" cy="372.5" r="9.75" fill="#fff"/><circle cx="427.5" cy="372.5" r="5.5" fill="#2ca02c"/><circle cx="431.5" cy="376.5" r="9.75" fill="#fff"/><circle cx="431.5" cy="376.5" r="5.5" fill="#2ca02c"/><circle cx="435.5" cy="396.5" r="9.75" fill="#fff"/><circle cx="435.5" cy="396.5" r="5.5" fill="#2ca02c"/><circle cx="440.5" cy="233.5" r="9.75" fill="#fff"/><circle cx="440.5" cy="233.5" r="5.5" fill="#2ca02c"/><circle cx="444.5" cy="277.5" r="9.75" fill="#fff"/><circle cx="444.5" cy="277.5" r="5.5" fill="#2ca02c"/><circle cx="448.5" cy="329.5" r="9.75" fill="#fff"/><circle cx="448.5" cy="329.5" r="5.5" fill="#2ca02c"/><circle cx="452.5" cy="308.5" r="9.75" fill="#fff"/><circle cx="452.5" cy="308.5" r="5.5" fill="#2ca02c"/><circle cx="457.5" cy="318.5" r="9.75" fill="#fff"/><circle cx="457.5" cy="318.5" r="5.5" fill="#2ca02c"/><circle cx="461.5" cy="354.5" r="9.75" fill="#fff"/><circle cx="461.5" cy="354.5" r="5.5" fill="#2ca02c"/><circle cx="465.5" cy="417.5" r="9.75" fill="#fff"/><circle cx="465.5" cy="417.5" r="5.5" fill="#2ca02c"/><circle cx="470.5" cy="275.5" r="9.75" fill="#fff"/><circle cx="470.5" cy="275.5" r="5.5" fill="#2ca02c"/><circle cx="474.5" cy="160.5" r="9.75" fill="#fff"/><circle cx="474.5" cy="160.5" r="5.5" fill="#2ca02c"/><circle cx="478.5" cy="332.5" r="9.75" fill="#fff"/><circle cx="478.5" cy="332.5" r="5.5" fill="#2ca02c"/><circle cx="483.5" cy="317.5" r="9.75" fill="#fff"/><circle cx="483.5" cy="317.5" r="5.5" fill="#2ca02c"/><circle cx="487.5" cy="336.5" r="9.75" fill="#fff"/><circle cx="487.5" cy="336.5" r="5.5" fill="#2ca02c"/><circle cx="491.5" cy="356.5" r="9.75" fill="#fff"/><circle cx="491.5" cy="356.5" r="5.5" fill="#2ca02c"/><circle cx="496.5" cy="409.5" r="9.75" fill="#fff"/><circle cx="496.5" cy="409.5" r="5.5" fill="#2ca02c"/><circle cx="500.5" cy="274.5" r="9.75" fill="#fff"/><circle cx="500.5" cy="274.5" r="5.5" fill="#2ca02c"/><circle cx="504.5" cy="174.5" r="9.75" fill="#fff"/><circle cx="504.5" cy="174.5" r="5.5" fill="#2ca02c"/><circle cx="509.5" cy="421.5" r="9.75" fill="#fff"/><circle cx="509.5" cy="421.5" r="5.5" fill="#2ca02c"/><circle cx="513.5" cy="320.5" r="9.75" fill="#fff"/><circle cx="513.5" cy="320.5" r="5.5" fill="#2ca02c"/><circle cx="517.5" cy="298.5" r="9.75" fill="#fff"/><circle cx="517.5" cy="298.5" r="5.5" fill="#2ca02c"/><circle cx="522.5" cy="238.5" r="9.75" fill="#fff"/><circle cx="522.5" cy="238.5" r="5.5" fill="#2ca02c"/><circle cx="526.5" cy="310.5" r="9.75" fill="#fff"/><circle cx="526.5" cy="310.5" r="5.5" fill="#2ca02c"/><circle cx="530.5" cy="336.5" r="9.75" fill="#fff"/><circle cx="530.5" cy="336.5" r="5.5" fill="#2ca02c"/><circle cx="535.5" cy="352.5" r="9.75" fill="#fff"/><circle cx="535.5" cy="352.5" r="5.5" fill="#2ca02c"/><circle cx="539.5" cy="346.5" r="9.75" fill="#fff"/><circle cx="539.5" cy="346.5" r="5.5" fill="#2ca02c"/><circle cx="543.5" cy="338.5" r="9.75" fill="#fff"/><circle cx="543.5" cy="338.5" r="5.5" fill="#2ca02c"/><circle cx="548.5" cy="393.5" r="9.75" fill="#fff"/><circle cx="548.5" cy="393.5" r="5.5" fill="#2ca02c"/><circle cx="552.5" cy="245.5" r="9.75" fill="#fff"/><circle cx="552.5" cy="245.5" r="5.5" fill="#2ca02c"/><circle cx="556.5" cy="278.5" r="9.75" fill="#fff"/><circle cx="556.5" cy="278.5" r="5.5" fill="#2ca02c"/><circle cx="560.5" cy="331.5" r="9.75" fill="#fff"/><circle cx="560.5" cy="331.5" r="5.5" fill="#2ca02c"/><circle cx="565.5" cy="279.5" r="9.75" fill="#fff"/><circle cx="565.5" cy="279.5" r="5.5" fill="#2ca02c"/><circle cx="569.5" cy="283.5" r="9.75" fill="#fff"/><circle cx="569.5" cy="283.5" r="5.5" fill="#2ca02c"/><circle cx="573.5" cy="364.5" r="9.75" fill="#fff"/><circle cx="573.5" cy="364.5" r="5.5" fill="#2ca02c"/><circle cx="578.5" cy="187.5" r="9.75" fill="#fff"/><circle cx="578.5" cy="187.5" r="5.5" fill="#2ca02c"/><circle cx="582.5" cy="367.5" r="9.75" fill="#fff"/><circle cx="582.5" cy="367.5" r="5.5" fill="#2ca02c"/><circle cx="586.5" cy="439.5" r="9.75" fill="#fff"/><circle cx="586.5" cy="439.5" r="5.5" fill="#2ca02c"/><circle cx="591.5" cy="426.5" r="9.75" fill="#fff"/><circle cx="591.5" cy="426.5" r="5.5" fill="#2ca02c"/><circle cx="595.5" cy="336.5" r="9.75" fill="#fff"/><circle cx="595.5" cy="336.5" r="5.5" fill="#2ca02c"/><circle cx="599.5" cy="431.5" r="9.75" fill="#fff"/><circle cx="599.5" cy="431.5" r="5.5" fill="#2ca02c"/><circle cx="604.5" cy="321.5" r="9.75" fill="#fff"/><circle cx="604.5" cy="321.5" r="5.5" fill="#2ca02c"/><circle cx="608.5" cy="281.5" r="9.75" fill="#fff"/><circle cx="608.5" cy="281.5" r="5.5" fill="#2ca02c"/><circle cx="612.5" cy="305.5" r="9.75" fill="#fff"/><circle cx="612.5" cy="305.5" r="5.5" fill="#2ca02c"/><circle cx="617.5" cy="310.5" r="9.75" fill="#fff"/><circle cx="617.5" cy="310.5" r="5.5" fill="#2ca02c"/><circle cx="621.5" cy="152.5" r="9.75" fill="#fff"/><circle cx="621.5" cy="152.5" r="5.5" fill="#2ca02c"/><circle cx="625.5" cy="261.5" r="9.75" fill="#fff"/><circle cx="625.5" cy="261.5" r="5.5" fill="#2ca02c"/><circle cx="630.5" cy="341.5" r="9.75" fill="#fff"/><circle cx="630.5" cy="341.5" r="5.5" fill="#2ca02c"/><circle cx="634.5" cy="370.5" r="9.75" fill="#fff"/><circle cx="634.5" cy="370.5" r="5.5" fill="#2ca02c"/><circle cx="638.5" cy="301.5" r="9.75" fill="#fff"/><circle cx="638.5" cy="301.5" r="5.5" fill="#2ca02c"/><circle cx="643.5" cy="318.5" r="9.75" fill="#fff"/><circle cx="643.5" cy="318.5" r="5.5" fill="#2ca02c"/><circle cx="647.5" cy="432.5" r="9.75" fill="#fff"/><circle cx="647.5" cy="432.5" r="5.5" fill="#2ca02c"/><circle cx="651.5" cy="348.5" r="9.75" fill="#fff"/><circle cx="651.5" cy="348.5" r="5.5" fill="#2ca02c"/><circle cx="656.5" cy="376.5" r="9.75" fill="#fff"/><circle cx="656.5" cy="376.5" r="5.5" fill="#2ca02c"/><circle cx="660.5" cy="232.5" r="9.75" fill="#fff"/><circle cx="660.5" cy="232.5" r="5.5" fill="#2ca02c"/><circle cx="664.5" cy="338.5" r="9.75" fill="#fff"/><circle cx="664.5" cy="338.5" r="5.5" fill="#2ca02c"/><circle cx="668.5" cy="319.5" r="9.75" fill="#fff"/><circle cx="668.5" cy="319.5" r="5.5" fill="#2ca02c"/><circle cx="673.5" cy="220.5" r="9.75" fill="#fff"/><circle cx="673.5" cy="220.5" r="5.5" fill="#2ca02c"/><circle cx="677.5" cy="338.5" r="9.75" fill="#fff"/><circle cx="677.5" cy="338.5" r="5.5" fill="#2ca02c"/><circle cx="681.5" cy="378.5" r="9.75" fill="#fff"/><circle cx="681.5" cy="378.5" r="5.5" fill="#2ca02c"/><circle cx="686.5" cy="336.5" r="9.75" fill="#fff"/><circle cx="686.5" cy="336.5" r="5.5" fill="#2ca02c"/><circle cx="690.5" cy="322.5" r="9.75" fill="#fff"/><circle cx="690.5" cy="322.5" r="5.5" fill="#2ca02c"/><circle cx="694.5" cy="389.5" r="9.75" fill="#fff"/><circle cx="694.5" cy="389.5" r="5.5" fill="#2ca02c"/><circle cx="699.5" cy="394.5" r="9.75" fill="#fff"/><circle cx="699.5" cy="394.5" r="5.5" fill="#2ca02c"/><circle cx="703.5" cy="338.5" r="9.75" fill="#fff"/><circle cx="703.5" cy="338.5" r="5.5" fill="#2ca02c"/><circle cx="707.5" cy="285.5" r="9.75" fill="#fff"/><circle cx="707.5" cy="285.5" r="5.5" fill="#2ca02c"/><circle cx="712.5" cy="355.5" r="9.75" fill="#fff"/><circle cx="712.5" cy="355.5" r="5.5" fill="#2ca02c"/><circle cx="716.5" cy="303.5" r="9.75" fill="#fff"/><circle cx="716.5" cy="303.5" r="5.5" fill="#2ca02c"/><circle cx="720.5" cy="201.5" r="9.75" fill="#fff"/><circle cx="720.5" cy="201.5" r="5.5" fill="#2ca02c"/><circle cx="725.5" cy="370.5" r="9.75" fill="#fff"/><circle cx="725.5" cy="370.5" r="5.5" fill="#2ca02c"/><circle cx="729.5" cy="178.5" r="9.75" fill="#fff"/><circle cx="729.5" cy="178.5" r="5.5" fill="#2ca02c"/><circle cx="733.5" cy="260.5" r="9.75" fill="#fff"/><circle cx="733.5" cy="260.5" r="5.5" fill="#2ca02c"/><circle cx="738.5" cy="325.5" r="9.75" fill="#fff"/><circle cx="738.5" cy="325.5" r="5.5" fill="#2ca02c"/><circle cx="742.5" cy="296.5" r="9.75" fill="#fff"/><circle cx="742.5" cy="296.5" r="5.5" fill="#2ca02c"/><circle cx="746.5" cy="400.5" r="9.75" fill="#fff"/><circle cx="746.5" cy="400.5" r="5.5" fill="#2ca02c"/><circle cx="751.5" cy="424.5" r="9.75" fill="#fff"/><circle cx="751.5" cy="424.5" r="5.5" fill="#2ca02c"/><circle cx="755.5" cy="427.5" r="9.75" fill="#fff"/><circle cx="755.5" cy="427.5" r="5.5" fill="#2ca02c"/><circle cx="759.5" cy="377.5" r="9.75" fill="#fff"/><circle cx="759.5" cy="377.5" r="5.5" fill="#2ca02c"/><circle cx="764.5" cy="309.5" r="9.75" fill="#fff"/><circle cx="764.5" cy="309.5" r="5.5" fill="#2ca02c"/><circle cx="768.5" cy="364.5" r="9.75" fill="#fff"/><circle cx="768.5" cy="364.5" r="5.5" fill="#2ca02c"/><circle cx="772.5" cy="151.5" r="9.75" fill="#fff"/><circle cx="772.5" cy="151.5" r="5.5" fill="#2ca02c"/><circle cx="776.5" cy="416.5" r="9.75" fill="#fff"/><circle cx="776.5" cy="416.5" r="5.5" fill="#2ca02c"/><circle cx="781.5" cy="311.5" r="9.75" fill="#fff"/><circle cx="781.5" cy="311.5" r="5.5" fill="#2ca02c"/><circle cx="785.5" cy="289.5" r="9.75" fill="#fff"/><circle cx="785.5" cy="289.5" r="5.5" fill="#2ca02c"/><circle cx="790.5" cy="203.5" r="9.75" fill="#fff"/><circle cx="790.5" cy="203.5" r="5.5" fill="#2ca02c"/><circle cx="794.5" cy="254.5" r="9.75" fill="#fff"/><circle cx="794.5" cy="254.5" r="5.5" fill="#2ca02c"/><circle cx="798.5" cy="343.5" r="9.75" fill="#fff"/><circle cx="798.5" cy="343.5" r="5.5" fill="#2ca02c"/><circle cx="802.5" cy="445.5" r="9.75" fill="#fff"/><circle cx="802.5" cy="445.5" r="5.5" fill="#2ca02c"/><circle cx="807.5" cy="345.5" r="9.75" fill="#fff"/><circle cx="807.5" cy="345.5" r="5.5" fill="#2ca02c"/><circle cx="811.5" cy="230.5" r="9.75" fill="#fff"/><circle cx="811.5" cy="230.5" r="5.5" fill="#2ca02c"/><circle cx="815.5" cy="329.5" r="9.75" fill="#fff"/><circle cx="815.5" cy="329.5" r="5.5" fill="#2ca02c"/><circle cx="820.5" cy="383.5" r="9.75" fill="#fff"/><circle cx="820.5" cy="383.5" r="5.5" fill="#2ca02c"/><circle cx="824.5" cy="186.5" r="9.75" fill="#fff"/><circle cx="824.5" cy="186.5" r="5.5" fill="#2ca02c"/><circle cx="828.5" cy="360.5" r="9.75" fill="#fff"/><circle cx="828.5" cy="360.5" r="5.5" fill="#2ca02c"/><circle cx="833.5" cy="220.5" r="9.75" fill="#fff"/><circle cx="833.5" cy="220.5" r="5.5" fill="#2ca02c"/><circle cx="837.5" cy="229.5" r="9.75" fill="#fff"/><circle cx="837.5" cy="229.5" r="5.5" fill="#2ca02c"/><circle cx="841.5" cy="358.5" r="9.75" fill="#fff"/><circle cx="841.5" cy="358.5" r="5.5" fill="#2ca02c"/><circle cx="846.5" cy="399.5" r="9.75" fill="#fff"/><circle cx="846.5" cy="399.5" r="5.5" fill="#2ca02c"/><circle cx="850.5" cy="310.5" r="9.75" fill="#fff"/><circle cx="850.5" cy="310.5" r="5.5" fill="#2ca02c"/><circle cx="854.5" cy="417.5" r="9.75" fill="#fff"/><circle cx="854.5" cy="417.5" r="5.5" fill="#2ca02c"/><circle cx="859.5" cy="256.5" r="9.75" fill="#fff"/><circle cx="859.5" cy="256.5" r="5.5" fill="#2ca02c"/><circle cx="863.5" cy="248.5" r="9.75" fill="#fff"/><circle cx="863.5" cy="248.5" r="5.5" fill="#2ca02c"/><circle cx="867.5" cy="489.5" r="9.75" fill="#fff"/><circle cx="867.5" cy="489.5" r="5.5" fill="#2ca02c"/><circle cx="872.5" cy="287.5" r="9.75" fill="#fff"/><circle cx="872.5" cy="287.5" r="5.5" fill="#2ca02c"/><circle cx="876.5" cy="495.5" r="9.75" fill="#fff"/><circle cx="876.5" cy="495.5" r="5.5" fill="#2ca02c"/><circle cx="880.5" cy="336.5" r="9.75" fill="#fff"/><circle cx="880.5" cy="336.5" r="5.5" fill="#2ca02c"/><circle cx="884.5" cy="243.5" r="9.75" fill="#fff"/><circle cx="884.5" cy="243.5" r="5.5" fill="#2ca02c"/><circle cx="889.5" cy="374.5" r="9.75" fill="#fff"/><circle cx="889.5" cy="374.5" r="5.5" fill="#2ca02c"/><circle cx="893.5" cy="312.5" r="9.75" fill="#fff"/><circle cx="893.5" cy="312.5" r="5.5" fill="#2ca02c"/><circle cx="898.5" cy="250.5" r="9.75" fill="#fff"/><circle cx="898.5" cy="250.5" r="5.5" fill="#2ca02c"/><circle cx="902.5" cy="313.5" r="9.75" fill="#fff"/><circle cx="902.5" cy="313.5" r="5.5" fill="#2ca02c"/><circle cx="906.5" cy="378.5" r="9.75" fill="#fff"/><circle cx="906.5" cy="378.5" r="5.5" fill="#2ca02c"/><circle cx="910.5" cy="316.5" r="9.75" fill="#fff"/><circle cx="910.5" cy="316.5" r="5.5" fill="#2ca02c"/><circle cx="915.5" cy="341.5" r="9.75" fill="#fff"/><circle cx="915.5" cy="341.5" r="5.5" fill="#2ca02c"/><circle cx="919.5" cy="302.5" r="9.75" fill="#fff"/><circle cx="919.5" cy="302.5" r="5.5" fill="#2ca02c"/><circle cx="923.5" cy="328.5" r="9.75" fill="#fff"/><circle cx="923.5" cy="328.5" r="5.5" fill="#2ca02c"/><circle cx="928.5" cy="310.5" r="9.75" fill="#fff"/><circle cx="928.5" cy="310.5" r="5.5" fill="#2ca02c"/><circle cx="932.5" cy="406.5" r="9.75" fill="#fff"/><circle cx="932.5" cy="406.5" r="5.5" fill="#2ca02c"/><circle cx="936.5" cy="294.5" r="9.75" fill="#fff"/><circle cx="936.5" cy="294.5" r="5.5" fill="#2ca02c"/><circle cx="941.5" cy="312.5" r="9.75" fill="#fff"/><circle cx="941.5" cy="312.5" r="5.5" fill="#2ca02c"/><circle cx="945.5" cy="287.5" r="9.75" fill="#fff"/><circle cx="945.5" cy="287.5" r="5.5" fill="#2ca02c"/><circle cx="949.5" cy="379.5" r="9.75" fill="#fff"/><circle cx="949.5" cy="379.5" r="5.5" fill="#2ca02c"/><circle cx="954.5" cy="369.5" r="9.75" fill="#fff"/><circle cx="954.5" cy="369.5" r="5.5" fill="#2ca02c"/></g>
<path d="M85.5 57.0V838.5H1166.0" fill="none" stroke="#000" stroke-width="1"/>
<text x="1087" y="80.3" text-anchor="end" xml:space="preserve" style="white-space:pre">TCP</text>
<line x1="1097.5" y1="74.5" x2="1145.5" y2="74.5" stroke="#0060ad" stroke-width="2"/>
<circle cx="1121.5" cy="74.5" r="9.75" fill="#fff"/><circle cx="1121.5" cy="74.5" r="5.5" fill="#0060ad"/>
<text x="1087" y="99.3" text-anchor="end" xml:space="preserve" style="white-space:pre">UDP</text>
<line x1="1097.5" y1="93.5" x2="1145.5" y2="93.5" stroke="#ff7f0e" stroke-width="2"/>
<circle cx="1121.5" cy="93.5" r="9.75" fill="#fff"/><circle cx="1121.5" cy="93.5" r="5.5" fill="#ff7f0e"/>
<text x="1087" y="118.3" text-anchor="end" xml:space="preserve" style="white-space:pre">IP (!TCP  !UDP)</text>
<line x1="1097.5" y1="112.5" x2="1145.5" y2="112.5" stroke="#2ca02c" stroke-width="2"/>
<circle cx="1121.5" cy="112.5" r="9.75" fill="#fff"/><circle cx="1121.5" cy="112.5" r="5.5" fill="#2ca02c"/>
<text x="75.2" y="845.0" text-anchor="end">0</text>
<text x="75.2" y="748.0" text-anchor="end">50</text>
<text x="75.2" y="650.0" text-anchor="end">100</text>
<text x="75.2" y="552.0" text-anchor="end">150</text>
<text x="75.2" y="455.0" text-anchor="end">200</text>
<text x="75.2" y="357.0" text-anchor="end">250</text>
<text x="75.2" y="259.0" text-anchor="end">300</text>
<text x="75.2" y="162.0" text-anchor="end">350</text>
<text x="75.2" y="64.0" text-anchor="end">400</text>
<text x="88.0" y="864" text-anchor="middle">0</text>
<text x="304.0" y="864" text-anchor="middle">50</text>
<text x="520.0" y="864" text-anchor="middle">100</text>
<text x="736.0" y="864" text-anchor="middle">150</text>
<text x="952.0" y="864" text-anchor="middle">200</text>
<text x="1168.0" y="864" text-anchor="middle">250</text>
<text x="625.5" y="891.5" text-anchor="middle">Time (s)</text>
<text transform="translate(24.2,448.2) rotate(-90)" text-anchor="middle">Megabits</text>
<text x="-5.2" y="35" xml:space="preserve">../medium-128snap/ipsec-sts/Phase<tspan font-size="12.8" dy="3.8">3M</tspan><tspan dy="-3.8">edium</tspan><tspan font-size="12.8" dy="3.8">8</tspan><tspan dy="-3.8">00</tspan><tspan font-size="12.8" dy="3.8">C</tspan><tspan dy="-3.8">loud</tspan><tspan font-size="12.8" dy="3.8">A</tspan><tspan dy="-3.8">lpha/pcaps/1678224757-e0.test2.phase3medium.pharos-1iperf-1proto-4cbs-ipsec-sts000000.pcap</tspan></text>
</svg>
</body></html>
